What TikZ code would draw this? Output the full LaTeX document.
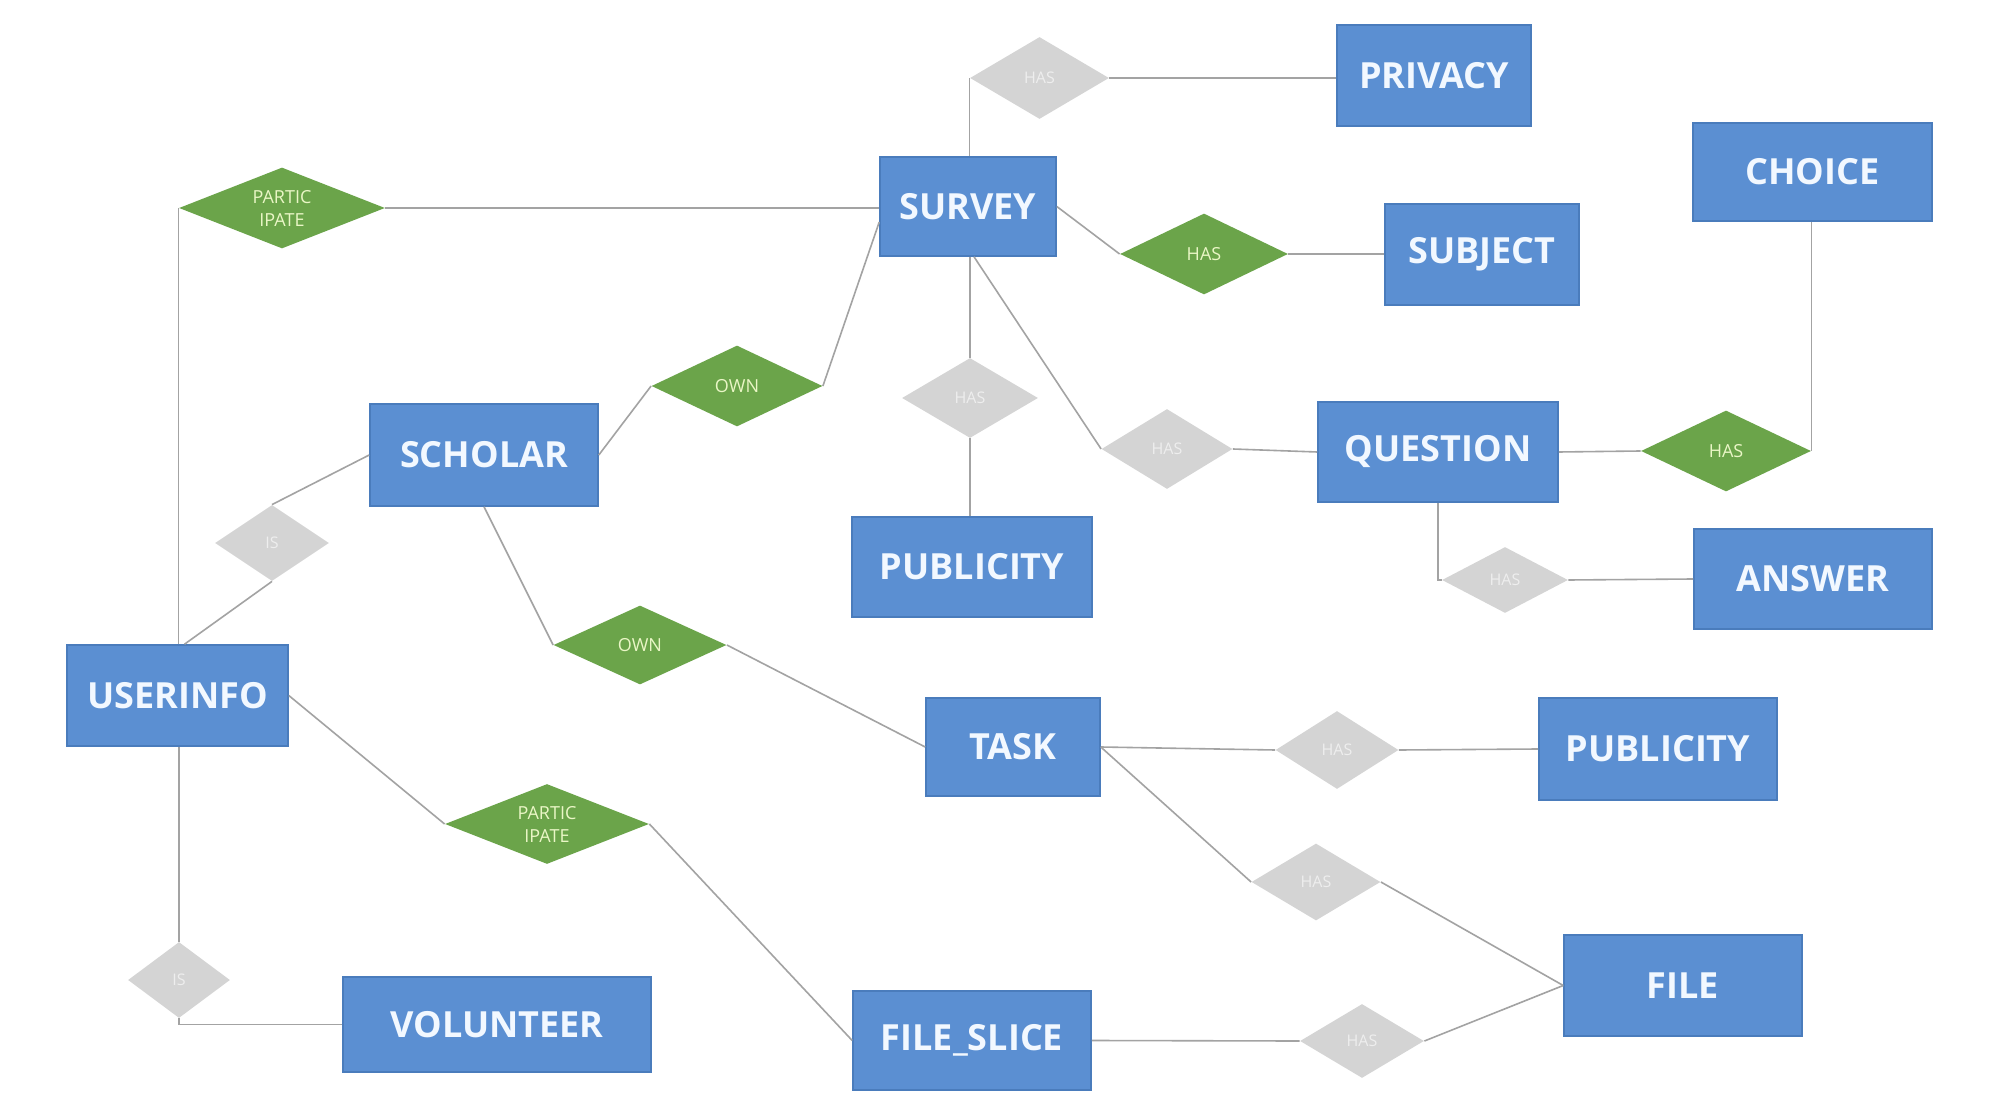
\documentclass[tikz,border=0pt]{standalone}
\usepackage{fontspec}
\setmainfont{Open Sans}
\usetikzlibrary{shapes.geometric,calc}
\definecolor{boxblue}{HTML}{5B8FD2}
\definecolor{boxedge}{HTML}{4A7CBC}
\definecolor{boxtext}{HTML}{F2F8FF}
\definecolor{relgreen}{HTML}{6BA44A}
\definecolor{greentext}{HTML}{EAF6C6}
\definecolor{relgray}{HTML}{D4D4D4}
\definecolor{graytext}{HTML}{EEEEEE}
\definecolor{linegray}{HTML}{A3A3A3}
\begin{document}
\begin{tikzpicture}[x=0.5pt,y=-0.5pt,
  ent/.style 2 args={rectangle, fill=boxblue, draw=boxedge, line width=0.8pt,
    text=boxtext, font=\fontsize{18}{20}\selectfont\bfseries, inner sep=0pt,
    minimum width=#1*0.5pt, minimum height=#2*0.5pt},
  gdia/.style 2 args={diamond, fill=relgreen, draw=none, inner sep=0pt,
    minimum width=#1*1pt, minimum height=#2*1pt},
  ydia/.style 2 args={diamond, fill=relgray, draw=none, inner sep=0pt,
    minimum width=#1*1pt, minimum height=#2*1pt},
  glab/.style={text=greentext, font=\fontsize{9}{11.5}\selectfont, align=center, inner sep=0pt},
  ylab/.style={text=graytext, font=\fontsize{8}{9}\selectfont, align=center, inner sep=0pt},
  conn/.style={draw=linegray, line width=0.8pt}
]
\useasboundingbox (0,0) rectangle (2000,1111);
\fill[white] (0,0) rectangle (2000,1111);

% entities
\node[ent={194}{101}] (privacy) at (1434,75.5) {PRIVACY};
\node[ent={176}{99}] (survey) at (968,206.5) {SURVEY};
\node[ent={239}{98}] (choice) at (1812.5,172) {CHOICE};
\node[ent={194}{101}] (subject) at (1482,254.5) {SUBJECT};
\node[ent={240}{100}] (question) at (1438,452) {QUESTION};
\node[ent={238}{100}] (answer) at (1813,579) {ANSWER};
\node[ent={240}{100}] (pubA) at (972,567) {PUBLICITY};
\node[ent={228}{102}] (scholar) at (484,455) {SCHOLAR};
\node[ent={221}{101}] (userinfo) at (177.5,695.5) {USERINFO};
\node[ent={174}{98}] (task) at (1013,747) {TASK};
\node[ent={238}{102}] (pubB) at (1658,749) {PUBLICITY};
\node[ent={238}{101}] (file) at (1683,985.5) {FILE};
\node[ent={308}{95}] (volunteer) at (497,1024.5) {VOLUNTEER};
\node[ent={238}{99}] (fileslice) at (972,1040.5) {FILE\_SLICE};

% green relationships
\node[gdia={103}{40.5}] (partA) at (282,208) {};
\node[glab] (partAl) at (partA) {PARTIC\\IPATE};
\node[gdia={84}{40.5}] (hasS) at (1204,254) {};
\node[glab] (hasSl) at (hasS) {HAS};
\node[gdia={85.5}{40.5}] (ownA) at (737,386) {};
\node[glab] (ownAl) at (ownA) {OWN};
\node[gdia={85}{40.5}] (hasC) at (1726,451) {};
\node[glab] (hasCl) at (hasC) {HAS};
\node[gdia={86.5}{39.5}] (ownB) at (640,645) {};
\node[glab] (ownBl) at (ownB) {OWN};
\node[gdia={102}{40}] (partB) at (547,824) {};
\node[glab] (partBl) at (partB) {PARTIC\\IPATE};

% gray relationships
\node[ydia={69.5}{41}] (gPriv) at (1039.5,78) {};
\node[ylab] (gPrivl) at (gPriv) {HAS};
\node[ydia={68}{40}] (gPubA) at (970,398) {};
\node[ylab] (gPubAl) at (gPubA) {HAS};
\node[ydia={65.5}{40}] (gQ) at (1167,449) {};
\node[ylab] (gQl) at (gQ) {HAS};
\node[ydia={63}{33}] (gAns) at (1505,580) {};
\node[ylab] (gAnsl) at (gAns) {HAS};
\node[ydia={57}{38}] (gSU) at (272,543) {};
\node[ylab] (gSUl) at (gSU) {IS};
\node[ydia={51}{38}] (gVol) at (179,980) {};
\node[ylab] (gVoll) at (gVol) {IS};
\node[ydia={61.5}{39}] (gTP) at (1337,750) {};
\node[ylab] (gTPl) at (gTP) {HAS};
\node[ydia={64.5}{38.5}] (gTF) at (1316,882) {};
\node[ylab] (gTFl) at (gTF) {HAS};
\node[ydia={62}{37}] (gSF) at (1362,1041) {};
\node[ylab] (gSFl) at (gSF) {HAS};

% connectors
\draw[conn] (partA.east) -- (partA.east -| survey.west);
\draw[conn] (partA.west) -- (partA.west |- userinfo.north);
\draw[conn] (survey.190) -- (ownA.east);
\draw[conn] (ownA.west) -- (scholar.east);
\draw[conn] (scholar.west) -- (gSU.north);
\draw[conn] (gSU.south) -- ($(userinfo.north)+(7,0)$);
\draw[conn] (scholar.south) -- (ownB.west);
\draw[conn] (ownB.east) -- (task.west);
\draw[conn] (userinfo.east) -- (partB.west);
\draw[conn] (partB.east) -- (fileslice.west);
\draw[conn] (gVol.north |- userinfo.south) -- (gVol.north);
\draw[conn] (gVol.south) |- (volunteer.west);
\draw[conn] (gPriv.west |- survey.north) -- (gPriv.west);
\draw[conn] (gPriv.east) -- (gPriv.east -| privacy.west);
\draw[conn] (survey.east) -- (hasS.west);
\draw[conn] (hasS.east) -- (hasS.east -| subject.west);
\draw[conn] (gPubA.north |- survey.south) -- (gPubA.north);
\draw[conn] (gPubA.south) -- (gPubA.south |- pubA.north);
\draw[conn] ($(survey.south)+(6,0)$) -- (gQ.west);
\draw[conn] (gQ.east) -- (question.west);
\draw[conn] (question.east) -- (hasC.west);
\draw[conn] (hasC.east) -- (hasC.east |- choice.south);
\draw[conn] (question.south) |- (gAns.west);
\draw[conn] (gAns.east) -- (answer.west);
\draw[conn] (task.east) -- (gTP.west);
\draw[conn] (gTP.east) -- (pubB.west);
\draw[conn] (task.east) -- (gTF.west);
\draw[conn] (gTF.east) -- (file.west);
\draw[conn] (fileslice.east) -- (gSF.west);
\draw[conn] (gSF.east) -- (file.west);
\end{tikzpicture}
\end{document}
